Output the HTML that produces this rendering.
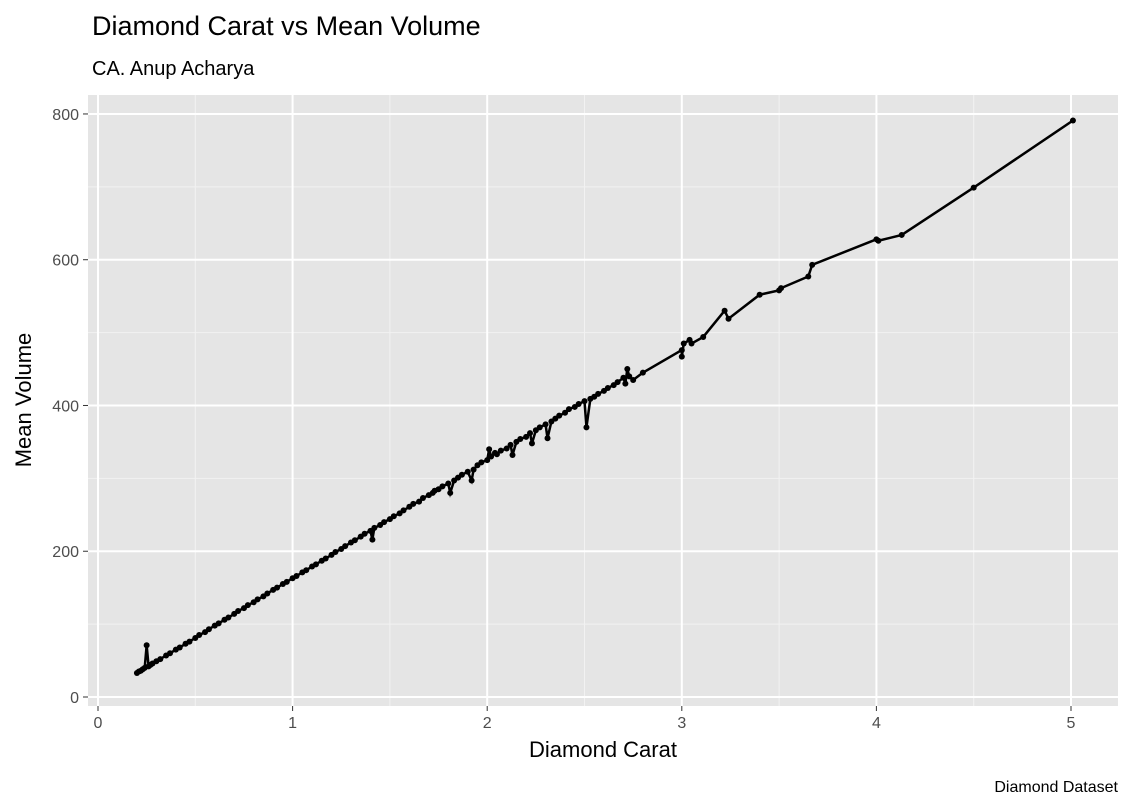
<!DOCTYPE html>
<html><head><meta charset="utf-8"><style>
body{margin:0;background:#fff;}
svg{display:block;font-family:"Liberation Sans",Arial,sans-serif;}
</style></head><body>
<svg id="chart" width="1132" height="809">
<text x="92" y="35" font-size="27" fill="#000">Diamond Carat vs Mean Volume</text>
<text x="92" y="75" font-size="20" fill="#000">CA. Anup Acharya</text>
<rect x="88" y="95" width="1030" height="611" fill="#e5e5e5"/>
<g id="grid"></g><g id="axes"></g><g id="series"></g>
<text x="603" y="757" font-size="22" text-anchor="middle" fill="#000">Diamond Carat</text>
<text transform="translate(31,400) rotate(-90)" font-size="22" text-anchor="middle" fill="#000">Mean Volume</text>
<text x="1118" y="792" font-size="16" text-anchor="end" fill="#000">Diamond Dataset</text>
</svg>
<script>
const carats=[0.20,0.21,0.22,0.23,0.24,0.25,0.26,0.27,0.28,0.30,0.32,0.35,0.37,0.40,0.42,0.45,0.47,0.50,0.52,0.55,0.57,0.60,0.62,0.65,0.67,0.70,0.72,0.75,0.77,0.80,0.82,0.85,0.87,0.90,0.92,0.95,0.97,1.00,1.02,1.05,1.07,1.10,1.12,1.15,1.17,1.20,1.22,1.25,1.27,1.30,1.32,1.35,1.37,1.40,1.41,1.42,1.45,1.47,1.50,1.52,1.55,1.57,1.60,1.62,1.65,1.67,1.70,1.72,1.73,1.75,1.77,1.80,1.81,1.83,1.85,1.87,1.90,1.92,1.93,1.95,1.97,2.00,2.01,2.02,2.04,2.05,2.07,2.10,2.12,2.13,2.15,2.17,2.20,2.22,2.23,2.25,2.27,2.30,2.31,2.33,2.35,2.37,2.40,2.42,2.45,2.47,2.50,2.51,2.53,2.55,2.57,2.60,2.62,2.65,2.67,2.70,2.71,2.72,2.73,2.75,2.80,3.00,3.00,3.01,3.04,3.05,3.11,3.22,3.24,3.40,3.50,3.51,3.65,3.67,4.00,4.01,4.13,4.50,5.01];
const volumes=[33,35,36,38,40,71,42,44,46,49,52,57,60,65,68,73,76,81,85,89,93,98,101,106,109,114,118,122,126,130,134,138,142,147,150,155,158,163,166,171,174,179,182,187,190,195,199,203,207,212,215,220,224,228,216,232,236,240,244,248,252,256,261,265,268,273,277,280,283,285,289,293,280,297,301,305,309,297,312,318,322,325,340,330,335,333,338,341,346,332,350,354,357,362,348,366,370,374,355,378,382,386,390,395,398,402,406,370,409,412,416,420,424,428,432,438,430,450,440,435,445,476,467,485,490,485,494,530,519,552,558,561,577,593,628,626,634,699,791];
const xTicks=[0,1,2,3,4,5];
const yTicks=[0,200,400,600,800];
const xMinor=[0.5,1.5,2.5,3.5,4.5];
const yMinor=[100,300,500,700];
const X=v=>98+v*194.6, Y=v=>697-v*0.7288;
const NS="http://www.w3.org/2000/svg";
function mk(t,a,p){const e=document.createElementNS(NS,t);for(const k in a)e.setAttribute(k,a[k]);p.appendChild(e);return e;}
const g=document.getElementById('grid'),ax=document.getElementById('axes'),s=document.getElementById('series');
xMinor.forEach(v=>{const l=mk('line',{x1:X(v),x2:X(v),y1:95,y2:706,stroke:'#f2f2f2','stroke-width':1},g);

});
yMinor.forEach(v=>{const l=mk('line',{x1:88,x2:1118,y1:Y(v),y2:Y(v),stroke:'#f2f2f2','stroke-width':1},g);

});
xTicks.forEach(v=>{const l=mk('line',{x1:X(v),x2:X(v),y1:95,y2:706,stroke:'#fff','stroke-width':2},g);


mk('line',{x1:X(v),x2:X(v),y1:706,y2:711,stroke:'#333','stroke-width':1},ax);
const t=mk('text',{x:X(v),y:728,'font-size':16,'text-anchor':'middle',fill:'#4d4d4d'},ax);t.textContent=v;

});
yTicks.forEach(v=>{const l=mk('line',{x1:88,x2:1118,y1:Y(v),y2:Y(v),stroke:'#fff','stroke-width':2},g);


mk('line',{x1:83,x2:88,y1:Y(v),y2:Y(v),stroke:'#333','stroke-width':1},ax);
const t=mk('text',{x:79,y:Y(v)+6,'font-size':16,'text-anchor':'end',fill:'#4d4d4d'},ax);t.textContent=v;

});
const p=mk('polyline',{points:carats.map((c,i)=>X(c)+','+Y(volumes[i])).join(' '),fill:'none',stroke:'#000','stroke-width':2.5},s);


carats.forEach((c,i)=>{const d=mk('circle',{cx:X(c),cy:Y(volumes[i]),r:3,fill:'#000'},s);

});
</script>
</body></html>
